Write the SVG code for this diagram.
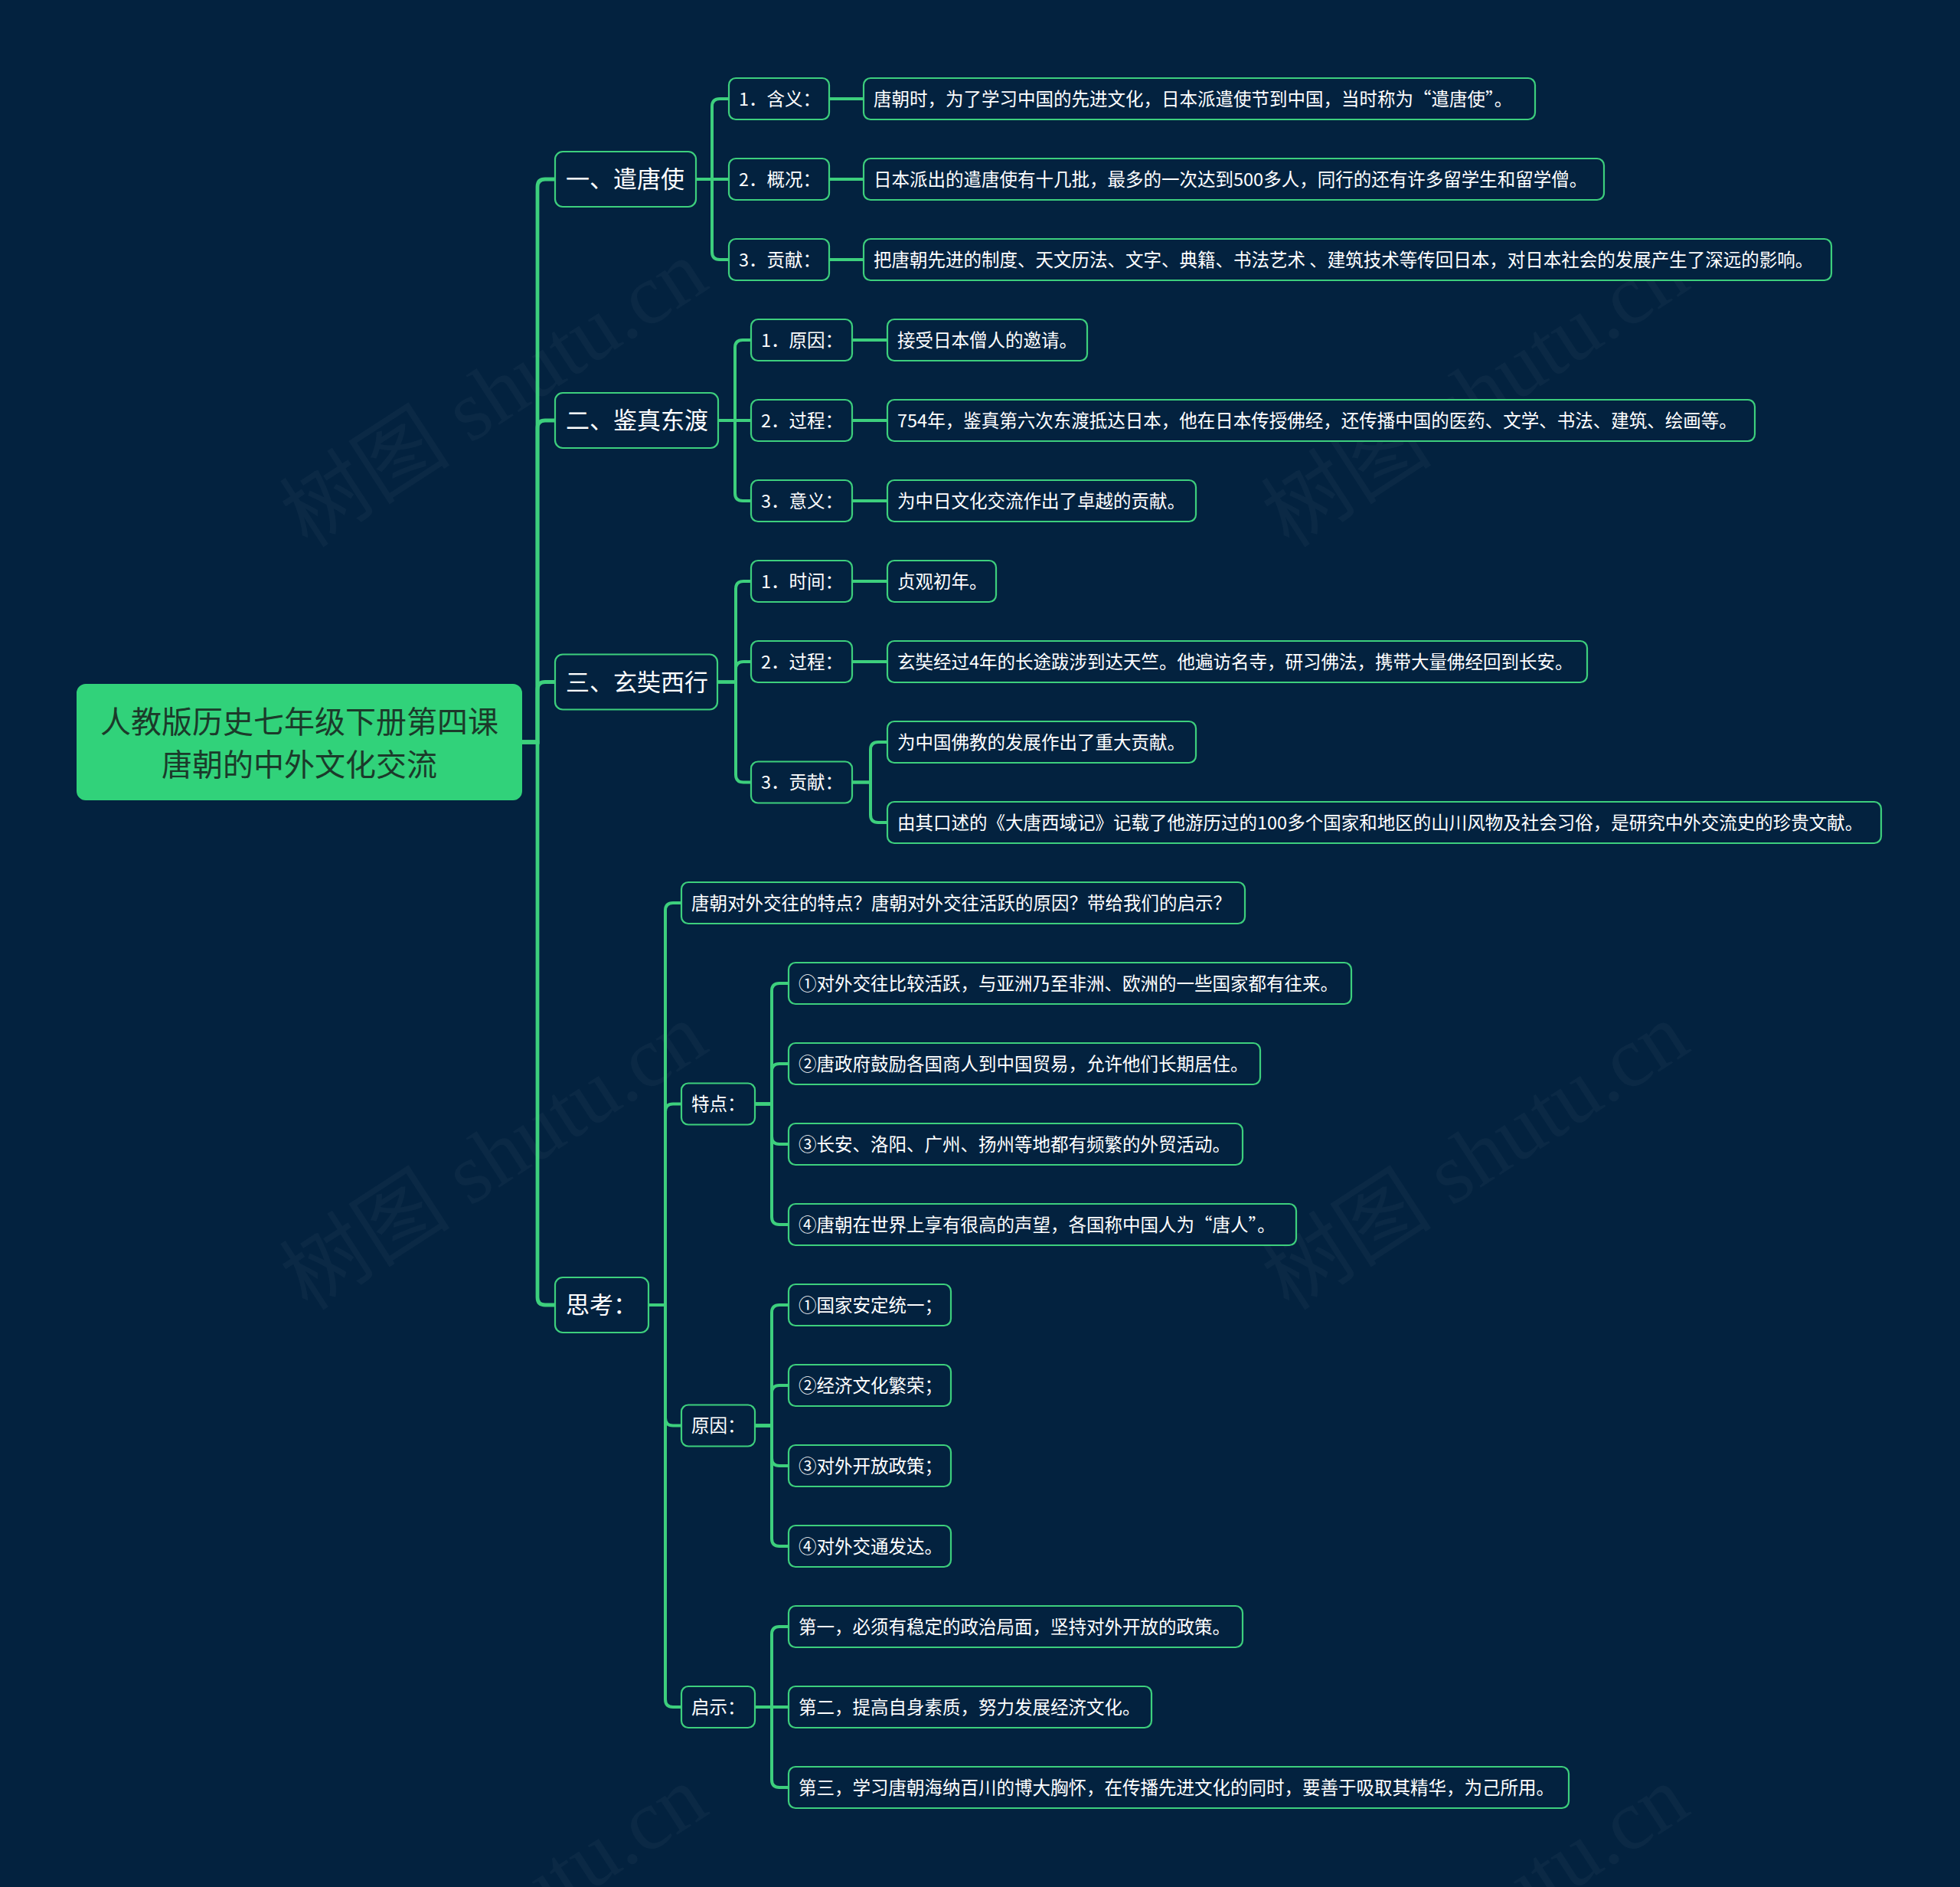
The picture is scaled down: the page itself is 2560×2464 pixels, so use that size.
<svg xmlns="http://www.w3.org/2000/svg" width="2560" height="2464" viewBox="0 0 2560 2464">
<style>
.bg{fill:#03223f}
.n rect{fill:#03223f;stroke:#3dcf7d;stroke-width:2.2}
.n text{fill:#ffffff;font-family:"Noto Sans CJK SC","Noto Sans",sans-serif;font-size:23.5px}
.l1 text{font-size:31px}
.root rect{fill:#31d27a;stroke:#31d27a;stroke-width:2}
.root text{fill:#1b3a2a;font-family:"Noto Sans CJK SC","Noto Sans",sans-serif;font-size:40px;text-anchor:middle}
#connectors path{fill:none;stroke:#3dcf7d;stroke-width:4;stroke-linecap:round}
#connectors path.trunk{stroke-width:4.8}
.wm text{fill:#ffffff;fill-opacity:0.035;font-family:"Liberation Serif","Noto Sans CJK SC",serif;font-size:112px}
</style>
<rect class="bg" x="0" y="0" width="2560" height="2464"/>

<g class="wm">
<text transform="translate(645,514) rotate(-33)" text-anchor="middle" dominant-baseline="central">树图 shutu.cn</text>
<text transform="translate(1927,514) rotate(-33)" text-anchor="middle" dominant-baseline="central">树图 shutu.cn</text>
<text transform="translate(645,1510) rotate(-33)" text-anchor="middle" dominant-baseline="central">树图 shutu.cn</text>
<text transform="translate(1927,1510) rotate(-33)" text-anchor="middle" dominant-baseline="central">树图 shutu.cn</text>
<text transform="translate(645,2506) rotate(-33)" text-anchor="middle" dominant-baseline="central">树图 shutu.cn</text>
<text transform="translate(1927,2506) rotate(-33)" text-anchor="middle" dominant-baseline="central">树图 shutu.cn</text>
</g>

<g id="connectors">
<path class="trunk" d="M681,969 H702 V244 Q702,234 712,234 H725"/>
<path class="trunk" d="M681,969 H702 V559 Q702,549 712,549 H725"/>
<path class="trunk" d="M681,969 H702 V900.5 Q702,890.5 712,890.5 H725"/>
<path class="trunk" d="M681,969 H702 V1694 Q702,1704 712,1704 H725"/>

<path d="M909,234 H930 V139 Q930,129 940,129 H952"/>
<path d="M909,234 H952"/>
<path d="M909,234 H930 V329 Q930,339 940,339 H952"/>
<path d="M1083,129 H1128"/>
<path d="M1083,234 H1128"/>
<path d="M1083,339 H1128"/>

<path d="M938,549 H960 V454 Q960,444 970,444 H981"/>
<path d="M938,549 H981"/>
<path d="M938,549 H960 V644 Q960,654 970,654 H981"/>
<path d="M1113,444 H1159"/>
<path d="M1113,549 H1159"/>
<path d="M1113,654 H1159"/>

<path d="M937,890.5 H961 V769 Q961,759 971,759 H981"/>
<path d="M937,890.5 H961 V874 Q961,864 971,864 H981"/>
<path d="M937,890.5 H961 V1011.5 Q961,1021.5 971,1021.5 H981"/>
<path d="M1113,759 H1159"/>
<path d="M1113,864 H1159"/>
<path d="M1113,1021.5 H1137 V979 Q1137,969 1147,969 H1159"/>
<path d="M1113,1021.5 H1137 V1064 Q1137,1074 1147,1074 H1159"/>

<path d="M847,1704 H869 V1189 Q869,1179 879,1179 H890"/>
<path d="M847,1704 H869 V1451.5 Q869,1441.5 879,1441.5 H890"/>
<path d="M847,1704 H869 V1851.5 Q869,1861.5 879,1861.5 H890"/>
<path d="M847,1704 H869 V2219 Q869,2229 879,2229 H890"/>

<path d="M986,1441.5 H1008 V1294 Q1008,1284 1018,1284 H1030"/>
<path d="M986,1441.5 H1008 V1399 Q1008,1389 1018,1389 H1030"/>
<path d="M986,1441.5 H1008 V1484 Q1008,1494 1018,1494 H1030"/>
<path d="M986,1441.5 H1008 V1589 Q1008,1599 1018,1599 H1030"/>

<path d="M986,1861.5 H1008 V1714 Q1008,1704 1018,1704 H1030"/>
<path d="M986,1861.5 H1008 V1819 Q1008,1809 1018,1809 H1030"/>
<path d="M986,1861.5 H1008 V1904 Q1008,1914 1018,1914 H1030"/>
<path d="M986,1861.5 H1008 V2009 Q1008,2019 1018,2019 H1030"/>

<path d="M986,2229 H1008 V2134 Q1008,2124 1018,2124 H1030"/>
<path d="M986,2229 H1030"/>
<path d="M986,2229 H1008 V2324 Q1008,2334 1018,2334 H1030"/>
</g>

<g id="root" class="root">
<rect x="101" y="894" width="580" height="150" rx="11"/>
<text x="391" y="957">人教版历史七年级下册第四课</text>
<text x="391" y="1013">唐朝的中外文化交流</text>
</g>

<g id="n1" class="n l1"><rect x="725" y="198" width="184" height="72" rx="10"/><text x="739" y="245">一、遣唐使</text></g>
<g id="n2" class="n l1"><rect x="725" y="513" width="213" height="72" rx="10"/><text x="739" y="560">二、鉴真东渡</text></g>
<g id="n3" class="n l1"><rect x="725" y="854.5" width="212" height="72" rx="10"/><text x="739" y="901.5">三、玄奘西行</text></g>
<g id="n4" class="n l1"><rect x="725" y="1668" width="122" height="72" rx="10"/><text x="739" y="1715">思考：</text></g>

<g id="n1a" class="n"><rect x="952" y="102" width="131" height="54" rx="9"/><text x="965" y="137.5">1．含义：</text></g>
<g id="n1b" class="n"><rect x="952" y="207" width="131" height="54" rx="9"/><text x="965" y="242.5">2．概况：</text></g>
<g id="n1c" class="n"><rect x="952" y="312" width="131" height="54" rx="9"/><text x="965" y="347.5">3．贡献：</text></g>
<g id="d0" class="n"><rect x="1128" y="102" width="877" height="54" rx="9"/><text x="1141" y="137.5">唐朝时，为了学习中国的先进文化，日本派遣使节到中国，当时称为“遣唐使”。</text></g>
<g id="d1" class="n"><rect x="1128" y="207" width="967" height="54" rx="9"/><text x="1141" y="242.5">日本派出的遣唐使有十几批，最多的一次达到500多人，同行的还有许多留学生和留学僧。</text></g>
<g id="d2" class="n"><rect x="1128" y="312" width="1264" height="54" rx="9"/><text x="1141" y="347.5">把唐朝先进的制度、天文历法、文字、典籍、书法艺术 、建筑技术等传回日本，对日本社会的发展产生了深远的影响。</text></g>

<g id="n2a" class="n"><rect x="981" y="417" width="132" height="54" rx="9"/><text x="994" y="452.5">1．原因：</text></g>
<g id="n2b" class="n"><rect x="981" y="522" width="132" height="54" rx="9"/><text x="994" y="557.5">2．过程：</text></g>
<g id="n2c" class="n"><rect x="981" y="627" width="132" height="54" rx="9"/><text x="994" y="662.5">3．意义：</text></g>
<g id="d3" class="n"><rect x="1159" y="417" width="261" height="54" rx="9"/><text x="1172" y="452.5">接受日本僧人的邀请。</text></g>
<g id="d4" class="n"><rect x="1159" y="522" width="1133" height="54" rx="9"/><text x="1172" y="557.5">754年，鉴真第六次东渡抵达日本，他在日本传授佛经，还传播中国的医药、文学、书法、建筑、绘画等。</text></g>
<g id="d5" class="n"><rect x="1159" y="627" width="403" height="54" rx="9"/><text x="1172" y="662.5">为中日文化交流作出了卓越的贡献。</text></g>

<g id="n3a" class="n"><rect x="981" y="732" width="132" height="54" rx="9"/><text x="994" y="767.5">1．时间：</text></g>
<g id="n3b" class="n"><rect x="981" y="837" width="132" height="54" rx="9"/><text x="994" y="872.5">2．过程：</text></g>
<g id="n3c" class="n"><rect x="981" y="994.5" width="132" height="54" rx="9"/><text x="994" y="1030">3．贡献：</text></g>
<g id="d6" class="n"><rect x="1159" y="732" width="142" height="54" rx="9"/><text x="1172" y="767.5">贞观初年。</text></g>
<g id="d7" class="n"><rect x="1159" y="837" width="914" height="54" rx="9"/><text x="1172" y="872.5">玄奘经过4年的长途跋涉到达天竺。他遍访名寺，研习佛法，携带大量佛经回到长安。</text></g>
<g id="d8" class="n"><rect x="1159" y="942" width="403" height="54" rx="9"/><text x="1172" y="977.5">为中国佛教的发展作出了重大贡献。</text></g>
<g id="d9" class="n"><rect x="1159" y="1047" width="1298" height="54" rx="9"/><text x="1172" y="1082.5">由其口述的《大唐西域记》记载了他游历过的100多个国家和地区的山川风物及社会习俗，是研究中外交流史的珍贵文献。</text></g>

<g id="q" class="n"><rect x="890" y="1152" width="736" height="54" rx="9"/><text x="903" y="1187.5">唐朝对外交往的特点？唐朝对外交往活跃的原因？带给我们的启示？</text></g>
<g id="n4a" class="n"><rect x="890" y="1414.5" width="96" height="54" rx="9"/><text x="903" y="1450">特点：</text></g>
<g id="n4b" class="n"><rect x="890" y="1834.5" width="96" height="54" rx="9"/><text x="903" y="1870">原因：</text></g>
<g id="n4c" class="n"><rect x="890" y="2202" width="96" height="54" rx="9"/><text x="903" y="2237.5">启示：</text></g>

<g id="t1" class="n"><rect x="1030" y="1257" width="735" height="54" rx="9"/><text x="1043" y="1292.5">①对外交往比较活跃，与亚洲乃至非洲、欧洲的一些国家都有往来。</text></g>
<g id="t2" class="n"><rect x="1030" y="1362" width="616" height="54" rx="9"/><text x="1043" y="1397.5">②唐政府鼓励各国商人到中国贸易，允许他们长期居住。</text></g>
<g id="t3" class="n"><rect x="1030" y="1467" width="593" height="54" rx="9"/><text x="1043" y="1502.5">③长安、洛阳、广州、扬州等地都有频繁的外贸活动。</text></g>
<g id="t4" class="n"><rect x="1030" y="1572" width="663" height="54" rx="9"/><text x="1043" y="1607.5">④唐朝在世界上享有很高的声望，各国称中国人为“唐人”。</text></g>

<g id="y1" class="n"><rect x="1030" y="1677" width="212" height="54" rx="9"/><text x="1043" y="1712.5">①国家安定统一；</text></g>
<g id="y2" class="n"><rect x="1030" y="1782" width="212" height="54" rx="9"/><text x="1043" y="1817.5">②经济文化繁荣；</text></g>
<g id="y3" class="n"><rect x="1030" y="1887" width="212" height="54" rx="9"/><text x="1043" y="1922.5">③对外开放政策；</text></g>
<g id="y4" class="n"><rect x="1030" y="1992" width="212" height="54" rx="9"/><text x="1043" y="2027.5">④对外交通发达。</text></g>

<g id="s1" class="n"><rect x="1030" y="2097" width="593" height="54" rx="9"/><text x="1043" y="2132.5">第一，必须有稳定的政治局面，坚持对外开放的政策。</text></g>
<g id="s2" class="n"><rect x="1030" y="2202" width="474" height="54" rx="9"/><text x="1043" y="2237.5">第二，提高自身素质，努力发展经济文化。</text></g>
<g id="s3" class="n"><rect x="1030" y="2307" width="1019" height="54" rx="9"/><text x="1043" y="2342.5">第三，学习唐朝海纳百川的博大胸怀，在传播先进文化的同时，要善于吸取其精华，为己所用。</text></g>
</svg>
